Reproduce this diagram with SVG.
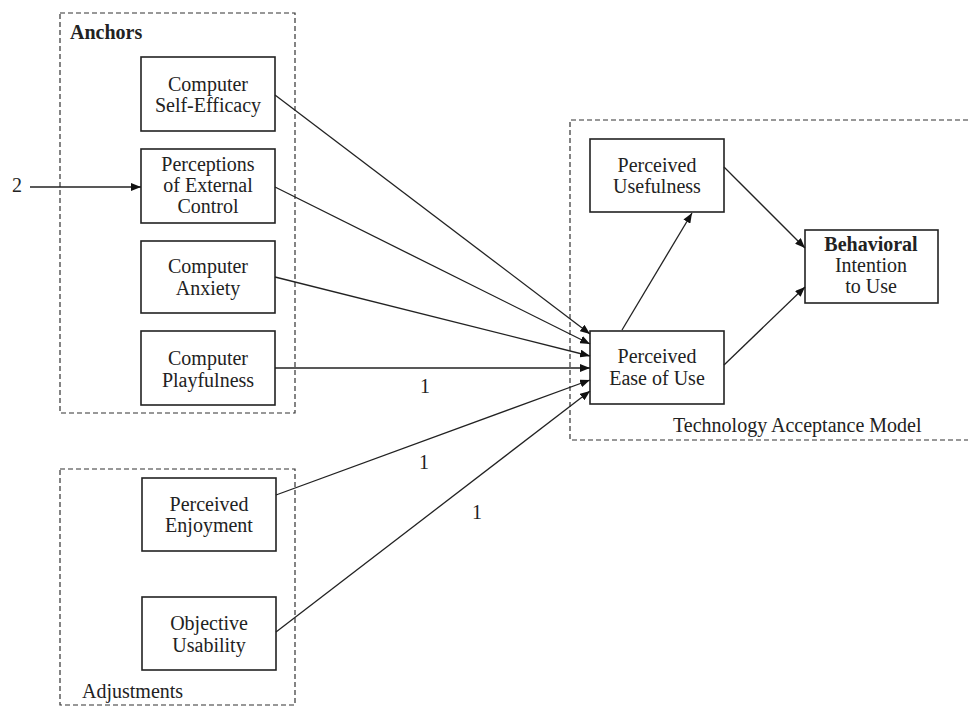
<svg xmlns="http://www.w3.org/2000/svg" width="968" height="707" viewBox="0 0 968 707">
<style>
.grp{fill:none;stroke:#333;stroke-width:1.2;stroke-dasharray:5 3}
.box{fill:#fff;stroke:#222;stroke-width:1.6}
.t{font-family:"Liberation Serif","Times New Roman",serif;font-size:20px;fill:#222;text-anchor:middle}
.lbl{font-family:"Liberation Serif","Times New Roman",serif;font-size:20px;fill:#222}
.c{fill:none;stroke:#222;stroke-width:1.3;marker-end:url(#ah)}
</style>
<defs>
<marker id="ah" viewBox="0 0 10 8" refX="10" refY="4" markerWidth="10" markerHeight="8" markerUnits="userSpaceOnUse" orient="auto">
<path d="M0,0 L10,4 L0,8 z" fill="#111"/>
</marker>
</defs>
<rect width="968" height="707" fill="#fff"/>
<g id="anchors">
<rect class="grp" x="60" y="13" width="235" height="400"/>
<text class="lbl" x="70" y="39" font-weight="bold" font-size="18">Anchors</text>
</g>
<g id="adjustments">
<rect class="grp" x="60" y="469" width="235" height="236"/>
<text class="lbl" x="82" y="698">Adjustments</text>
</g>
<g id="tam">
<path class="grp" d="M968,120 L570,120 L570,440 L968,440"/>
<text class="lbl" x="673" y="432">Technology Acceptance Model</text>
</g>
<g id="cse">
<rect class="box" x="141" y="57" width="134" height="74"/>
<text class="t" x="208" y="91">Computer</text>
<text class="t" x="208" y="112">Self-Efficacy</text>
</g>
<g id="pec">
<rect class="box" x="141" y="149" width="134" height="74"/>
<text class="t" x="208" y="171">Perceptions</text>
<text class="t" x="208" y="192">of External</text>
<text class="t" x="208" y="213">Control</text>
</g>
<g id="ca">
<rect class="box" x="141" y="241" width="134" height="72"/>
<text class="t" x="208" y="273">Computer</text>
<text class="t" x="208" y="295">Anxiety</text>
</g>
<g id="cp">
<rect class="box" x="141" y="331" width="134" height="74"/>
<text class="t" x="208" y="365">Computer</text>
<text class="t" x="208" y="387">Playfulness</text>
</g>
<g id="pe">
<rect class="box" x="142" y="478" width="134" height="73"/>
<text class="t" x="209" y="511">Perceived</text>
<text class="t" x="209" y="532">Enjoyment</text>
</g>
<g id="ou">
<rect class="box" x="142" y="597" width="134" height="73"/>
<text class="t" x="209" y="630">Objective</text>
<text class="t" x="209" y="652">Usability</text>
</g>
<g id="pu">
<rect class="box" x="590" y="139" width="134" height="73"/>
<text class="t" x="657" y="172">Perceived</text>
<text class="t" x="657" y="193">Usefulness</text>
</g>
<g id="peou">
<rect class="box" x="590" y="331" width="134" height="73"/>
<text class="t" x="657" y="363">Perceived</text>
<text class="t" x="657" y="385">Ease of Use</text>
</g>
<g id="bi">
<rect class="box" x="805" y="230" width="133" height="73"/>
<text class="t" x="871" y="251" font-weight="bold" font-size="19">Behavioral</text>
<text class="t" x="871" y="272">Intention</text>
<text class="t" x="871" y="293">to Use</text>
</g>
<g id="connectors">
<line class="c" x1="30" y1="187" x2="141" y2="187"/>
<line class="c" x1="275" y1="95" x2="590" y2="334"/>
<line class="c" x1="275" y1="187" x2="590" y2="344"/>
<line class="c" x1="275" y1="277" x2="590" y2="356"/>
<line class="c" x1="275" y1="368" x2="590" y2="368"/>
<line class="c" x1="276" y1="495" x2="590" y2="380"/>
<line class="c" x1="276" y1="632" x2="590" y2="391"/>
<line class="c" x1="622" y1="330" x2="692" y2="213"/>
<line class="c" x1="724" y1="167" x2="805" y2="248"/>
<line class="c" x1="724" y1="365" x2="805" y2="287"/>
<text class="lbl" x="12" y="192">2</text>
<text class="lbl" x="420" y="393">1</text>
<text class="lbl" x="419" y="469">1</text>
<text class="lbl" x="472" y="519">1</text>
</g>
</svg>
